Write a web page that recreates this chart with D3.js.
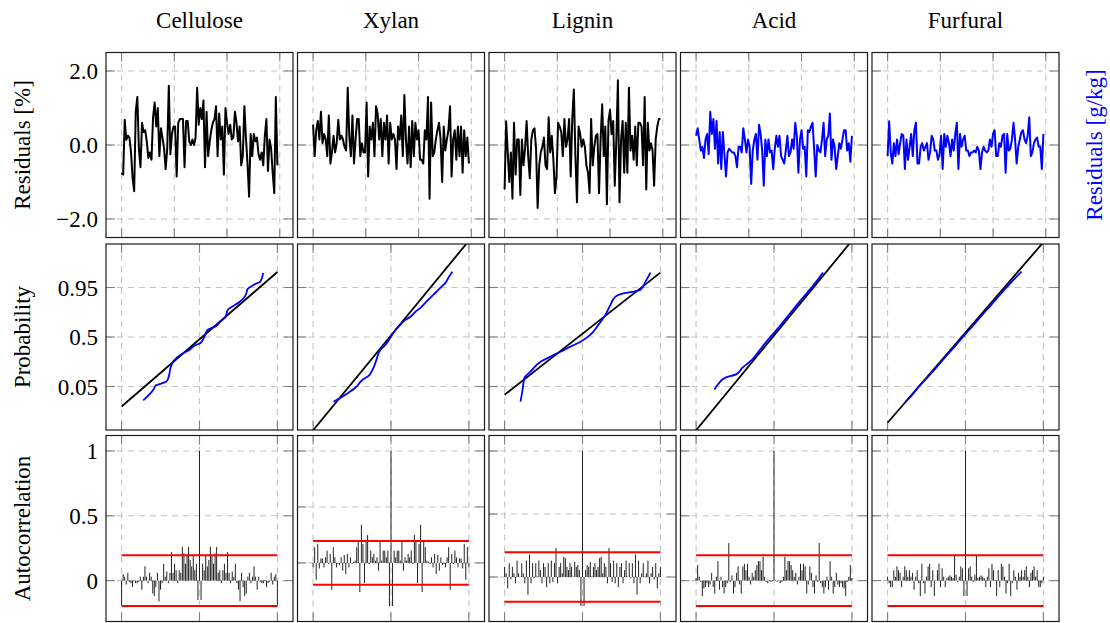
<!DOCTYPE html>
<html><head><meta charset="utf-8">
<script src="https://cdn.jsdelivr.net/npm/d3@7"></script>
<style>
body{margin:0;background:#fff;}
svg{display:block;font-family:"Liberation Serif","Times New Roman",serif;}
</style></head><body>
<svg id="chart" width="1110" height="623"></svg>
<script>
// ---------------- DATA ----------------
const columns = ["Cellulose", "Xylan", "Lignin", "Acid", "Furfural"];
const seriesColors = ["#000000", "#000000", "#000000", "#0000ff", "#0000ff"];

// Row 1: residual time series (100 samples each)
const residCellulose = [-0.75,-0.8,0.68,0.14,0.25,0.2,-0.2,-0.9,-1.25,0.9,1.3,-0.1,-0.6,0.6,0.35,0.4,0.1,-0.35,-0.2,-0.4,0.75,1.15,0.5,1.0,-0.3,0.45,0.2,-0.1,-0.65,-0.1,1.6,-0.25,0.3,0.5,0.5,-0.85,0.6,0.7,0.7,0.7,-0.6,0.65,0.65,0.1,0.0,0.15,0.0,0.2,1.55,0.55,1.0,0.7,1.2,-0.6,0.9,-0.3,0.1,0.4,0.6,0.7,1.05,-0.3,0.85,0.15,0.5,-0.8,1.0,0.6,0.3,0.55,0.15,0.2,0.9,0.6,0.1,0.5,-0.55,-0.3,1.05,0.2,-0.5,-1.4,0.3,-0.3,0.3,0.1,0.2,-0.25,-0.4,-0.2,-0.55,0.25,0.7,-0.7,0.15,-0.1,-0.75,-1.3,1.3,-0.55];
const residXylan = [0.55,-0.3,0.4,0.65,0.15,0.9,0.05,0.3,0.15,-0.3,0.8,-0.5,-0.2,0.25,-0.2,0.05,0.68,0.15,0.25,0.15,-0.05,-0.15,1.55,0.25,-0.3,0.8,-0.5,0.15,0.7,0.7,-0.3,0.05,-0.2,-0.2,1.15,-0.85,0.5,0.15,0.6,-0.3,1.05,0.85,0.15,0.7,-0.3,0.6,0.15,0.8,-0.5,0.6,0.15,0.3,0.15,-0.65,0.5,0.15,0.8,-0.3,1.35,0.15,-0.5,0.5,-0.6,0.65,-0.3,0.6,0.15,0.4,-0.4,-0.4,-0.5,0.4,0.15,1.3,-1.45,1.15,-0.3,-0.2,0.15,0.4,0.6,0.15,-1.0,0.5,-0.15,0.15,0.4,1.05,-0.85,0.15,0.4,-0.4,0.5,-0.3,0.5,-0.75,0.4,-0.3,0.2,-0.5];
const residLignin = [-1.2,0.64,-0.2,-1.0,-0.2,-1.45,0.6,-0.8,0.15,0.15,-1.35,0.15,-0.55,-0.1,0.65,-0.3,-0.9,0.15,0.4,0.45,-0.1,-1.7,-0.55,-0.2,-0.05,0.2,-0.55,-0.65,0.75,-0.2,0.25,-0.4,-1.3,-0.85,0.6,0.5,0.35,-0.3,0.7,-0.05,0.15,0.7,-0.85,0.7,1.5,-0.3,-1.55,0.5,0.3,-0.05,0.15,-0.05,-0.55,-0.75,-1.3,0.7,-0.55,-0.05,0.25,0.3,-1.3,0.15,1.1,-0.3,0.5,-1.6,0.65,0.95,0.3,0.65,-1.1,0.15,1.75,-1.55,0.15,0.65,-0.75,0.6,-0.75,1.55,-0.15,0.25,-0.4,0.5,-0.55,0.6,0.6,0.5,-0.55,1.3,-1.2,0.6,-0.15,0.05,-0.15,-1.1,0.15,0.5,0.7,0.7];
const residAcid = [0.25,0.45,0.15,-0.15,-0.05,-0.35,0.15,0.3,-0.25,0.9,0.3,0.7,-0.1,0.65,-0.5,0.35,-0.65,0.35,-0.25,-0.85,-0.2,-0.1,-0.15,-0.2,-0.2,-0.3,-0.6,-0.05,-0.05,-0.2,0.45,0.15,-0.2,0.15,-0.05,-1.05,-0.15,0.15,0.3,-0.4,0.55,0.3,-0.15,-1.1,0.15,-0.3,0.15,-0.2,-0.15,-0.65,-0.1,0.25,-0.05,0.25,-0.3,-0.4,-0.5,-0.15,0.25,-0.3,-0.2,0.15,-0.1,0.6,0.25,-0.75,0.15,0.4,-0.1,-0.05,-0.85,0.4,0.35,0.5,0.6,-0.1,-0.85,0.0,-0.15,-0.2,0.15,0.6,-0.3,0.15,0.25,0.85,-0.4,0.15,-0.05,-0.65,-0.3,0.05,-0.1,0.15,0.4,0.4,-0.15,0.05,-0.45,0.25];
const residFurfural = [-0.3,0.64,-0.2,-0.5,0.05,-0.3,0.15,-0.25,0.05,0.3,0.25,-0.65,0.15,-0.4,-0.05,0.3,-0.3,0.4,0.6,-0.5,-0.5,-0.05,0.05,-0.15,-0.05,0.05,-0.4,-0.2,0.25,0.15,-0.15,-0.15,-0.4,-0.25,0.25,-0.65,0.3,-0.05,0.25,0.05,-0.3,0.15,-0.15,0.3,0.6,-0.65,0.3,-0.05,0.15,0.25,-0.15,-0.15,-0.3,-0.2,-0.2,-0.15,-0.2,-0.05,-0.15,-0.65,-0.2,-0.05,-0.15,-0.2,-0.15,0.15,-0.05,0.3,0.4,-0.3,-0.3,0.05,-0.05,0.25,0.3,-0.75,0.3,-0.15,-0.1,0.15,0.6,0.15,-0.5,-0.05,0.15,0.35,0.4,0.15,0.05,0.25,0.75,-0.3,-0.2,0.05,0.15,0.2,-0.05,-0.05,-0.65,0.3];
const residuals = [residCellulose, residXylan, residLignin, residAcid, residFurfural];
const residTicks = [-2, 0, 2];
const residTickLabels = ["\u22122.0", "0.0", "2.0"];
const sampleTicks = [0, 33.5, 67, 100.5];

// Row 2: normal probability plot, [residual (grid units), normal quantile]
const probCellulose = [[-0.722,-2.106],[-0.586,-1.728],[-0.564,-1.618],[-0.423,-1.475],[-0.394,-1.309],[-0.372,-1.03],[-0.337,-0.811],[-0.244,-0.588],[-0.124,-0.422],[-0.064,-0.289],[0.013,-0.199],[0.055,-0.033],[0.106,0.243],[0.205,0.352],[0.269,0.518],[0.333,0.664],[0.363,0.907],[0.44,1.04],[0.504,1.149],[0.568,1.296],[0.603,1.462],[0.612,1.571],[0.696,1.738],[0.782,1.847],[0.817,2.126]];
const probXylan = [[-0.737,-2.15],[-0.647,-2.02],[-0.545,-1.85],[-0.455,-1.68],[-0.365,-1.42],[-0.288,-1.29],[-0.237,-1.09],[-0.186,-0.75],[-0.135,-0.42],[-0.071,-0.26],[-0.006,-0.02],[0.058,0.24],[0.122,0.41],[0.186,0.57],[0.25,0.67],[0.314,0.84],[0.378,0.97],[0.442,1.14],[0.506,1.31],[0.571,1.47],[0.635,1.64],[0.699,1.8],[0.737,1.97],[0.788,2.17]];
const probLignin = [[-0.795,-2.15],[-0.769,-1.75],[-0.744,-1.35],[-0.667,-1.15],[-0.538,-0.82],[-0.41,-0.65],[-0.282,-0.49],[-0.154,-0.32],[-0.026,-0.16],[0.103,0.08],[0.205,0.41],[0.295,0.74],[0.359,1.07],[0.423,1.34],[0.513,1.44],[0.641,1.5],[0.744,1.57],[0.808,1.84],[0.872,2.14]];
const probAcid = [[-0.763,-1.75],[-0.712,-1.55],[-0.622,-1.35],[-0.494,-1.25],[-0.404,-1.02],[-0.28,-0.75],[-0.2,-0.49],[-0.1,-0.16],[0.0,0.14],[0.08,0.38],[0.16,0.64],[0.245,0.91],[0.35,1.24],[0.425,1.47],[0.5,1.7],[0.63,2.14]];
const probFurfural = [[-0.769,-2.15],[-0.685,-1.92],[-0.577,-1.58],[-0.49,-1.35],[-0.42,-1.15],[-0.31,-0.82],[-0.21,-0.52],[-0.12,-0.26],[-0.04,-0.02],[0.05,0.24],[0.14,0.51],[0.24,0.81],[0.33,1.07],[0.42,1.34],[0.5,1.57],[0.58,1.8],[0.72,2.17]];
const probCurves = [probCellulose, probXylan, probLignin, probAcid, probFurfural];
const fitCellulose = [[-1,-2.31],[1,2.16]];
const fitXylan = [[-1,-3.1],[1,3.2]];
const fitLignin = [[-1,-1.92],[1,2.14]];
const fitAcid = [[-1,-3.1],[1,3.2]];
const fitFurfural = [[-1,-2.85],[1,3.15]];
const fitLines = [fitCellulose, fitXylan, fitLignin, fitAcid, fitFurfural];
const probGridTicks = [-1, 0, 1];
const probTicks = [0.05, 0.5, 0.95];
const probTickLabels = ["0.05", "0.5", "0.95"];
const probRange = [0.001, 0.999];

// Row 3: autocorrelation, lags 0..50 (two-sided, symmetric)
const acfCellulose = [1,-0.15,0.13,0.08,0.19,0.11,0.16,0.26,0.19,0.13,0.21,0.26,0.06,0.08,-0.02,0.08,0.13,0.06,0.22,0.06,-0.02,0.07,0.03,0.13,-0.02,-0.07,-0.16,0.06,-0.05,-0.12,-0.1,0.03,0.06,-0.02,0.03,0.11,0.03,-0.07,0.03,-0.01,-0.02,-0.02,0.005,-0.05,-0.02,-0.01,0.06,-0.03,0.03,0.05,-0.19];
const acfXylan = [1,-0.385,0.11,0.05,0.11,0.11,0.02,0.19,-0.07,0.05,0.02,0.08,0.05,0.11,-0.01,0.25,0.2,-0.18,0.17,0.34,-0.26,0.2,0.14,0.02,0.01,-0.01,0.05,-0.04,0.08,-0.1,0.07,-0.07,0.05,-0.02,-0.01,-0.04,0.05,0.14,-0.24,0.08,-0.01,0.11,0.05,-0.04,0.04,0.04,-0.05,0.17,-0.15,0.14,-0.04];
const acfLignin = [1,-0.23,0.055,0.095,0.08,0.12,0.003,0.08,0.11,0.055,0.08,0.15,0.16,0.03,0.11,0.08,-0.05,0.23,0.11,-0.04,0.13,-0.05,0.11,-0.08,0.08,0.11,-0.05,0.055,0.13,0.003,0.11,-0.01,0.11,-0.05,0.18,-0.14,0.13,-0.05,0.03,0.11,0.003,0.03,0.13,-0.05,0.03,0.08,-0.02,0.11,-0.09,0.03,0.08];
const acfAcid = [1,0.005,-0.01,0.005,-0.02,-0.01,0.03,0.185,0.08,0.15,0.15,0.12,0.08,0.03,0.06,-0.03,0.03,0.13,0.08,0.13,0.11,-0.1,-0.03,0.11,0.06,-0.05,-0.1,0.04,-0.01,0.29,-0.02,-0.05,-0.1,-0.05,0.03,-0.07,0.15,0.03,-0.1,-0.05,0.06,-0.03,-0.05,-0.02,-0.05,-0.06,-0.12,-0.01,0.03,0.12,0.02];
const acfFurfural = [1,-0.12,0.095,0.11,0.03,-0.01,0.045,0.19,0.02,0.03,0.04,0.03,0.02,-0.05,0.03,0.095,-0.05,0.13,0.08,0.005,-0.12,0.08,-0.05,0.13,0.11,0.03,-0.1,-0.02,0.13,-0.12,-0.02,0.08,0.03,-0.07,0.06,0.03,0.08,0.03,0.08,0.11,0.03,-0.05,0.06,0.08,0.11,0.03,0.08,-0.05,-0.05,-0.02,0.03];
const acfs = [acfCellulose, acfXylan, acfLignin, acfAcid, acfFurfural];
const confLimit = 0.196;
const acfTicks = [0, 0.5, 1];
const acfTickLabels = ["0", "0.5", "1"];

const rowLabels = ["Residuals [%]", "Probability", "Autocorrelation"];
const rightLabel = "Residuals [g/kg]";

// ---------------- LAYOUT ----------------
const panelLeft0 = 106, colStep = 191.5, panelW = 187;
const rowTops = [52.5, 244, 435.5], rowHeights = [185, 186, 186];
const tickLen = 9;
const gridColor = "#c4c4c4", tickColor = "#808080";
const fontSize = 23;

function probit(p) {
  const a=[-3.969683028665376e+01,2.209460984245205e+02,-2.759285104469687e+02,1.383577518672690e+02,-3.066479806614716e+01,2.506628277459239e+00];
  const b=[-5.447609879822406e+01,1.615858368580409e+02,-1.556989798598866e+02,6.680131188771972e+01,-1.328068155288572e+01];
  const c=[-7.784894002430293e-03,-3.223964580411365e-01,-2.400758277161838e+00,-2.549732539343734e+00,4.374664141464968e+00,2.938163982698783e+00];
  const d=[7.784695709041462e-03,3.224671290700398e-01,2.445134137142996e+00,3.754408661907416e+00];
  const pl=0.02425, ph=1-pl; let q, r;
  if (p < pl) { q=Math.sqrt(-2*Math.log(p)); return (((((c[0]*q+c[1])*q+c[2])*q+c[3])*q+c[4])*q+c[5])/((((d[0]*q+d[1])*q+d[2])*q+d[3])*q+1); }
  if (p <= ph) { q=p-0.5; r=q*q; return (((((a[0]*r+a[1])*r+a[2])*r+a[3])*r+a[4])*r+a[5])*q/(((((b[0]*r+b[1])*r+b[2])*r+b[3])*r+b[4])*r+1); }
  q=Math.sqrt(-2*Math.log(1-p)); return -(((((c[0]*q+c[1])*q+c[2])*q+c[3])*q+c[4])*q+c[5])/((((d[0]*q+d[1])*q+d[2])*q+d[3])*q+1);
}

const svg = d3.select("#chart");
const defs = svg.append("defs");

function enlarge(lo, hi, f) { const r = hi - lo; return [lo - f*r, hi + f*r]; }

function panel(row, col, xScale, yScale, xTicks, yTicks, drawFn) {
  const x0 = panelLeft0 + col*colStep, y0 = rowTops[row];
  const w = panelW, h = rowHeights[row];
  const id = `clip-${row}-${col}`;
  defs.append("clipPath").attr("id", id).append("rect").attr("x", x0).attr("y", y0).attr("width", w).attr("height", h);
  const g = svg.append("g");
  g.selectAll(null).data(xTicks).join("line")
    .attr("x1", d => xScale(d)).attr("x2", d => xScale(d)).attr("y1", y0).attr("y2", y0 + h)
    .attr("stroke", gridColor).attr("stroke-width", 1.1).attr("stroke-dasharray", "6,5");
  g.selectAll(null).data(yTicks).join("line")
    .attr("y1", d => yScale(d)).attr("y2", d => yScale(d)).attr("x1", x0).attr("x2", x0 + w)
    .attr("stroke", gridColor).attr("stroke-width", 1.1).attr("stroke-dasharray", "6,5");
  const tk = g.append("g").attr("stroke", tickColor).attr("stroke-width", 1.1);
  xTicks.forEach(t => {
    const x = xScale(t);
    tk.append("line").attr("x1", x).attr("x2", x).attr("y1", y0).attr("y2", y0 + tickLen);
    tk.append("line").attr("x1", x).attr("x2", x).attr("y1", y0 + h).attr("y2", y0 + h - tickLen);
  });
  yTicks.forEach(t => {
    const y = yScale(t);
    tk.append("line").attr("y1", y).attr("y2", y).attr("x1", x0).attr("x2", x0 + tickLen);
    tk.append("line").attr("y1", y).attr("y2", y).attr("x1", x0 + w).attr("x2", x0 + w - tickLen);
  });
  const dg = svg.append("g").attr("clip-path", `url(#${id})`);
  drawFn(dg);
  svg.append("rect").attr("x", x0).attr("y", y0).attr("width", w).attr("height", h)
    .attr("fill", "none").attr("stroke", "#1a1a1a").attr("stroke-width", 1.2);
}

function yTickLabels(yScale, ticks, labels) {
  svg.append("g").selectAll("text").data(ticks).join("text")
    .attr("x", panelLeft0 - 8).attr("y", d => yScale(d)).attr("dy", "0.35em")
    .attr("text-anchor", "end").attr("font-size", fontSize).attr("fill", "#000")
    .text((d, i) => labels[i]);
}

columns.forEach((name, c) => {
  const x0 = panelLeft0 + c*colStep;
  svg.append("text").attr("x", x0 + panelW/2).attr("y", 28).attr("text-anchor", "middle")
    .attr("font-size", fontSize).attr("fill", "#000").text(name);

  // ---- Row 1: residuals ----
  const res = residuals[c];
  const n = res.length;
  const xr = d3.scaleLinear().domain(enlarge(0, n - 1, 0.1)).range([x0, x0 + panelW]);
  const yr = d3.scaleLinear().domain([-2.5, 2.5]).range([rowTops[0] + rowHeights[0], rowTops[0]]);
  panel(0, c, xr, yr, sampleTicks, residTicks, g => {
    g.append("path").datum(res)
      .attr("d", d3.line().x((d, i) => xr(i)).y(d => yr(d)))
      .attr("fill", "none").attr("stroke", seriesColors[c]).attr("stroke-width", 2).attr("stroke-linejoin", "round");
  });
  if (c === 0) yTickLabels(yr, residTicks, residTickLabels);

  // ---- Row 2: probability plot ----
  const xp = d3.scaleLinear().domain(enlarge(-1, 1, 0.1)).range([x0, x0 + panelW]);
  const yp = d3.scaleLinear().domain(probRange.map(probit)).range([rowTops[1] + rowHeights[1], rowTops[1]]);
  const probTickZ = probTicks.map(probit);
  panel(1, c, xp, yp, probGridTicks, probTickZ, g => {
    g.append("path").datum(fitLines[c])
      .attr("d", d3.line().x(d => xp(d[0])).y(d => yp(d[1])))
      .attr("fill", "none").attr("stroke", "#000").attr("stroke-width", 1.8);
    g.append("path").datum(probCurves[c])
      .attr("d", d3.line().x(d => xp(d[0])).y(d => yp(d[1])).curve(d3.curveMonotoneY))
      .attr("fill", "none").attr("stroke", "#0000ff").attr("stroke-width", 1.8);
  });
  if (c === 0) yTickLabels(yp, probTickZ, probTickLabels);

  // ---- Row 3: autocorrelation ----
  const acf = acfs[c];
  const L = acf.length - 1;
  const stems = d3.range(-L, L + 1).map(l => ({lag: l, v: acf[Math.abs(l)]}));
  const lo = Math.min(d3.min(acf), -confLimit), hi = Math.max(d3.max(acf), confLimit);
  const xa = d3.scaleLinear().domain(enlarge(-L, L, 0.1)).range([x0, x0 + panelW]);
  const ya = d3.scaleLinear().domain(enlarge(lo, hi, 0.1)).range([rowTops[2] + rowHeights[2], rowTops[2]]);
  panel(2, c, xa, ya, [-L, 0, L], acfTicks, g => {
    g.selectAll(null).data(stems).join("line")
      .attr("x1", d => xa(d.lag)).attr("x2", d => xa(d.lag))
      .attr("y1", ya(0)).attr("y2", d => ya(d.v))
      .attr("stroke", "#222").attr("stroke-width", 1);
    [confLimit, -confLimit].forEach(v => {
      g.append("line").attr("x1", xa(-L)).attr("x2", xa(L)).attr("y1", ya(v)).attr("y2", ya(v))
        .attr("stroke", "#ff0000").attr("stroke-width", 2);
    });
  });
  if (c === 0) yTickLabels(ya, acfTicks, acfTickLabels);
});

rowLabels.forEach((lab, r) => {
  const cy = rowTops[r] + rowHeights[r]/2;
  svg.append("text").attr("transform", `translate(22,${cy}) rotate(-90)`)
    .attr("text-anchor", "middle").attr("dy", "0.35em").attr("font-size", fontSize).attr("fill", "#000").text(lab);
});
svg.append("text").attr("transform", `translate(1094,${rowTops[0] + rowHeights[0]/2}) rotate(-90)`)
  .attr("text-anchor", "middle").attr("dy", "0.35em").attr("font-size", fontSize).attr("fill", "#0000ff").text(rightLabel);
</script>
</body></html>
